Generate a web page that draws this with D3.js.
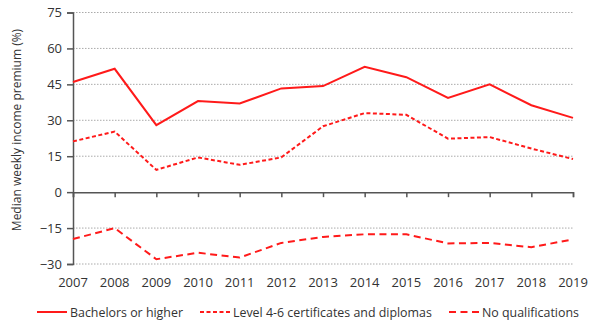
<!DOCTYPE html>
<html><head><meta charset="utf-8">
<script src="https://cdn.jsdelivr.net/npm/d3@7"></script>
<style>
body{margin:0;background:#fff;}
text{font-family:"Open Sans",sans-serif;fill:#333;}
</style></head><body>
<svg id="c" width="594" height="329"></svg>
<script>
const years = [2007,2008,2009,2010,2011,2012,2013,2014,2015,2016,2017,2018,2019];
const bachelors = [46,51.5,28,38,37,43.3,44.3,52.3,48,39.3,45,36.3,31];
const level46 = [21.2,25.3,9.3,14.5,11.4,14.5,27.5,33,32.3,22.3,23,18.2,13.8];
const noQual = [-19.6,-15,-28,-25.3,-27.3,-21.2,-18.7,-17.6,-17.6,-21.4,-21.2,-23,-19.7];
const yTicks = [-30,-15,0,15,30,45,60,75];
const seriesNames = ["Bachelors or higher","Level 4-6 certificates and diplomas","No qualifications"];

const svg = d3.select("#c");
const x = d3.scaleLinear().domain([2007,2019]).range([73,573]);
const y = d3.scaleLinear().domain([-30,75]).range([264,12.5]);

// gridlines
svg.append("g").selectAll("line").data(yTicks.filter(d=>d!==0)).join("line")
  .attr("x1",73).attr("x2",573).attr("y1",d=>y(d)).attr("y2",d=>y(d))
  .attr("stroke","#aaa").attr("stroke-width",1).attr("stroke-dasharray","1.5,1.5");

// y axis
const ya = svg.append("g").attr("transform","translate(73,0)")
  .call(d3.axisLeft(y).tickValues(yTicks).tickSize(6).tickPadding(5));
ya.select(".domain").attr("stroke","#555").attr("stroke-width",1.5);
ya.selectAll(".tick line").attr("stroke","#555").attr("stroke-width",1.5);
ya.selectAll("text").attr("font-size",13).attr("font-family","Open Sans").attr("fill","#333");

// x axis at 0
const xa = svg.append("g").attr("transform",`translate(0,${y(0)})`)
  .call(d3.axisBottom(x).tickValues(years).tickFormat(d3.format("d")).tickSize(5).tickPadding(0));
xa.select(".domain").attr("stroke","#555").attr("stroke-width",1.5);
xa.selectAll(".tick line").attr("stroke","#555").attr("stroke-width",1.5);
xa.selectAll("text").remove();

// x labels at bottom
svg.append("g").selectAll("text").data(years).join("text")
  .attr("x",d=>x(d)).attr("y",287).attr("text-anchor","middle")
  .attr("font-size",13).text(d=>d);

// y title
svg.append("text").attr("transform","translate(21,130) rotate(-90)")
  .attr("text-anchor","middle").attr("font-size",12).text("Median weekly income premium (%)");

const red = "#ff1a1a";
const styles = [null,"4,2.5","7,4.5"];
const data = [bachelors,level46,noQual];
data.forEach((vals,i)=>{
  const line = d3.line().x((d,j)=>x(years[j])).y(d=>y(d));
  svg.append("path").datum(vals).attr("d",line).attr("fill","none")
    .attr("stroke",red).attr("stroke-width",2)
    .attr("stroke-dasharray",styles[i]);
});

// legend
const legX = [37,200,449];
const lg = svg.append("g").selectAll("g").data(seriesNames).join("g")
  .attr("transform",(d,i)=>`translate(${legX[i]},312)`);
lg.append("line").attr("x1",0).attr("x2",30).attr("y1",0).attr("y2",0)
  .attr("stroke",red).attr("stroke-width",2).attr("stroke-dasharray",(d,i)=>styles[i]);
lg.append("text").attr("x",33).attr("y",4.5).attr("font-size",12.4).text(d=>d);
</script>
</body></html>
